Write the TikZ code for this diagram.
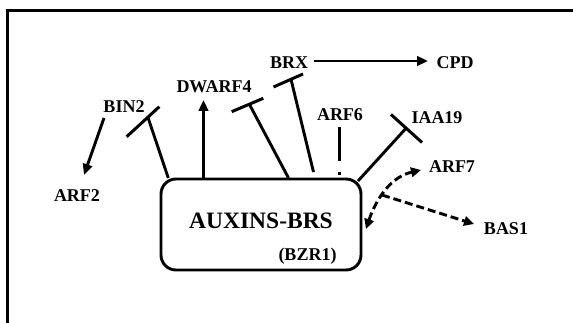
\documentclass[tikz,border=0pt]{standalone}
\usepackage{fontspec}
\setmainfont{Liberation Serif}
\usetikzlibrary{arrows.meta}
\begin{document}
\begin{tikzpicture}[x=1pt,y=-1pt,
  lbl/.style={font=\fontsize{18}{18}\selectfont\bfseries, inner sep=0pt},
  ln/.style={line width=2.9pt},
  act/.style={ln, -{Triangle[length=11pt,width=9.5pt]}},
  barline/.style={line width=3pt},
  dsh/.style={line width=2.9pt, dash pattern=on 8pt off 4pt}
]
\useasboundingbox (0,0) rectangle (573,323);
% frame (cropped)
\draw[line width=3pt] (7.5,335) -- (7.5,10.5) -- (585,10.5);

% central box
\node[draw, line width=2.9pt, rounded corners=15pt, minimum width=200pt,
      minimum height=91pt, outer sep=0pt, inner sep=0pt] (box) at (261,224.5) {};
\node[font=\fontsize{23.5}{23.5}\selectfont\bfseries, inner sep=0pt] (main) at (261,221) {AUXINS-BRS};
\node[lbl] (bzr) at (307.5,256) {(BZR1)};

% labels
\node[lbl] (BRX) at (289,63) {BRX};
\node[lbl] (CPD) at (455,62.5) {CPD};
\node[lbl] (DWARF) at (214,87) {DWARF4};
\node[lbl] (BIN) at (124,107) {BIN2};
\node[lbl] (ARFsix) at (340,114.5) {ARF6};
\node[lbl] (IAA) at (437,117.5) {IAA19};
\node[lbl] (ARFseven) at (452,167) {ARF7};
\node[lbl] (ARFtwo) at (77,195.5) {ARF2};
\node[lbl] (BAS) at (506,229) {BAS1};

% coordinates
\coordinate (sBIN) at (168.3,178);
\coordinate (eBIN) at (147.9,117.2);
\coordinate (bBINa) at (126.7,136.7);
\coordinate (bBINb) at (159.3,106.7);

\coordinate (sDWa) at (203.5,178);
\coordinate (eDWa) at (203.5,100);

\coordinate (sDW) at (288.5,178);
\coordinate (eDW) at (249.5,104.5);
\coordinate (bDWa) at (231.7,111.7);
\coordinate (bDWb) at (263.3,98.3);

\coordinate (sBRX) at (313.5,172);
\coordinate (eBRX) at (291,79.3);
\coordinate (bBRXa) at (273.5,87);
\coordinate (bBRXb) at (303,74);

\coordinate (tA6) at (339.3,127);
\coordinate (bA6) at (339.3,176);

\coordinate (sIAA) at (358,181);
\coordinate (eIAA) at (405.8,128.5);
\coordinate (bIAAa) at (391,114.5);
\coordinate (bIAAb) at (422,142.5);

\coordinate (sBRXc) at (313.5,61);
\coordinate (eCPD) at (428,61);

\coordinate (sBINa) at (104,118);
\coordinate (eARF2) at (84,175);

\coordinate (tBox) at (366,229);
\coordinate (tA7) at (421,170);
\coordinate (branch) at (382,195);
\coordinate (tBAS) at (474,224);

% connectors
\draw[act] (sBINa) -- (eARF2);
\draw[ln] (sBIN) -- (eBIN);
\draw[barline] (bBINa) -- (bBINb);
\draw[act] (sDWa) -- (eDWa);
\draw[ln] (sDW) -- (eDW);
\draw[barline] (bDWa) -- (bDWb);
\draw[ln] (sBRX) -- (eBRX);
\draw[barline] (bBRXa) -- (bBRXb);
\draw[act] (sBRXc) -- (eCPD);
\draw[ln, dash pattern=on 34pt off 11pt on 3pt off 20pt] (tA6) -- (bA6);
\draw[ln] (sIAA) -- (eIAA);
\draw[barline] (bIAAa) -- (bIAAb);

\draw[dsh, {Triangle[length=10pt,width=9.5pt]}-{Triangle[length=10pt,width=9.5pt]}]
  (tBox) .. controls (373,208) and (386,178) .. (tA7);
\draw[dsh, -{Triangle[length=10pt,width=9.5pt]}] (branch) -- (tBAS);
\end{tikzpicture}
\end{document}
